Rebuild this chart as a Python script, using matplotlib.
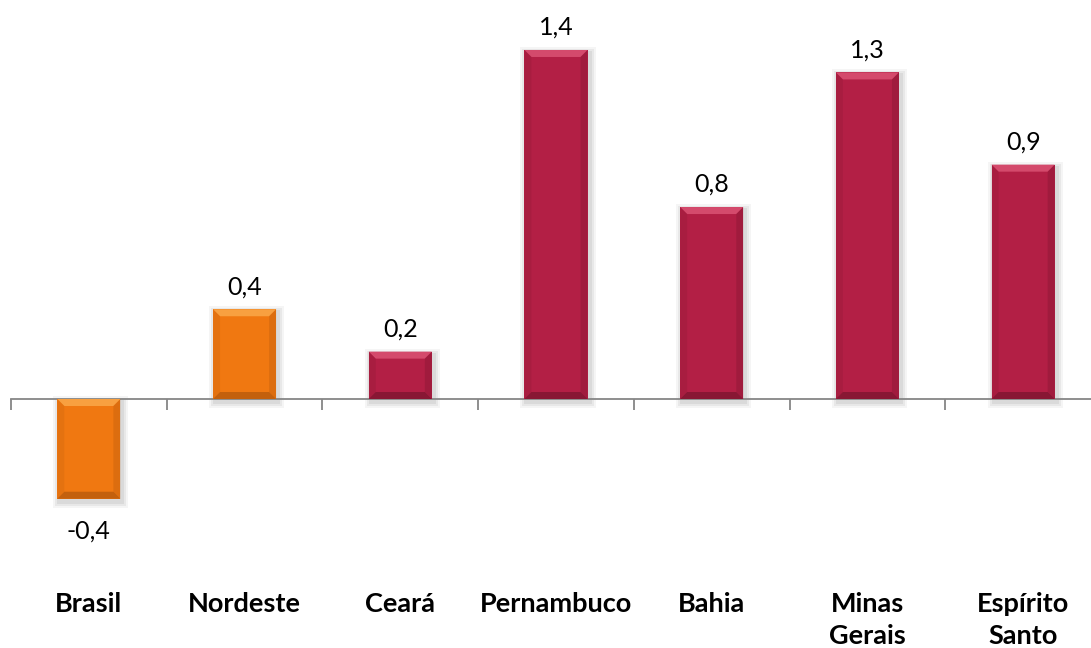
import matplotlib.pyplot as plt
from matplotlib.patches import Polygon, Rectangle
from matplotlib.transforms import blended_transform_factory

categories = ["Brasil", "Nordeste", "Ceará", "Pernambuco", "Bahia", "Minas\nGerais", "Espírito\nSanto"]
values = [-0.40, 0.36, 0.19, 1.40, 0.77, 1.31, 0.94]
labels = ["-0,4", "0,4", "0,2", "1,4", "0,8", "1,3", "0,9"]
groups = ["regiao", "regiao", "estado", "estado", "estado", "estado", "estado"]

colors = {"regiao": "#F07811", "estado": "#B31F45"}
light = {"regiao": "#F8A040", "estado": "#D44A6C"}
dark = {"regiao": "#B85A0C", "estado": "#7E1530"}

plt.rcParams["font.family"] = ["Lato", "DejaVu Sans"]

W, H = 1091, 648
fig = plt.figure(figsize=(W / 100, H / 100), dpi=100)
ymin, ymax = -0.6, 1.5
ppu = 249.3  # pixels per unit
top_px = 399 - ymax * ppu
bot_px = 399 - ymin * ppu
ax = fig.add_axes([11 / W, 1 - bot_px / H, 1090 / W, (bot_px - top_px) / H])

x = list(range(len(categories)))
bars = ax.bar(x, values, width=0.405, color=[colors[g] for g in groups], zorder=3)

ax.set_xlim(-0.5, 6.5)
ax.set_ylim(ymin, ymax)

# bevel + shadow from each bar's geometry
bx = 7 / 155.7
by = 7 / ppu
for b, g in zip(bars, groups):
    x0, w = b.get_x(), b.get_width()
    y0 = min(b.get_y(), b.get_y() + b.get_height())
    y1 = max(b.get_y(), b.get_y() + b.get_height())
    x1 = x0 + w
    for k, a in [(6, 0.04), (4, 0.05), (2, 0.06)]:
        ax.add_patch(Rectangle((x0 - k / 155.7 + 2 / 155.7, y0 - k / ppu - 3 / ppu),
                               w + 2 * k / 155.7, y1 - y0 + 2 * k / ppu,
                               color="#000000", alpha=a, zorder=2, lw=0))
    ax.add_patch(Polygon([(x0, y1), (x1, y1), (x1 - bx, y1 - by), (x0 + bx, y1 - by)],
                         color=light[g], zorder=4, lw=0))
    ax.add_patch(Polygon([(x0, y0), (x1, y0), (x1 - bx, y0 + by), (x0 + bx, y0 + by)],
                         color=dark[g], zorder=4, lw=0, alpha=0.8))
    ax.add_patch(Polygon([(x0, y0), (x0, y1), (x0 + bx, y1 - by), (x0 + bx, y0 + by)],
                         color=dark[g], zorder=4, lw=0, alpha=0.2))
    ax.add_patch(Polygon([(x1, y0), (x1, y1), (x1 - bx, y1 - by), (x1 - bx, y0 + by)],
                         color=dark[g], zorder=4, lw=0, alpha=0.35))

for xi, v, lab in zip(x, values, labels):
    if v >= 0:
        ax.annotate(lab, (xi, v), xytext=(0, 8), textcoords="offset points",
                    ha="center", va="bottom", fontsize=18, color="black")
    else:
        ax.annotate(lab, (xi, v), xytext=(0, -15), textcoords="offset points",
                    ha="center", va="top", fontsize=18, color="black")

for s in ["top", "right", "left"]:
    ax.spines[s].set_visible(False)
ax.spines["bottom"].set_position(("data", 0))
ax.spines["bottom"].set_color("#868686")
ax.spines["bottom"].set_linewidth(1.3)
ax.set_yticks([])
ax.set_xticks(x)
ax.set_xticklabels([])
ax.tick_params(axis="x", which="major", length=0)
ax.set_xticks([i - 0.5 for i in range(len(categories) + 1)], minor=True)
ax.tick_params(axis="x", which="minor", length=8, width=1.3, color="#868686", direction="out")

trans = blended_transform_factory(ax.transData, fig.transFigure)
for xi, cat in zip(x, categories):
    ax.text(xi, 1 - 592 / H, cat, transform=trans, ha="center", va="top",
            fontsize=19.5, fontweight="bold", linespacing=1.38)

fig.savefig("out.png", dpi=100)
